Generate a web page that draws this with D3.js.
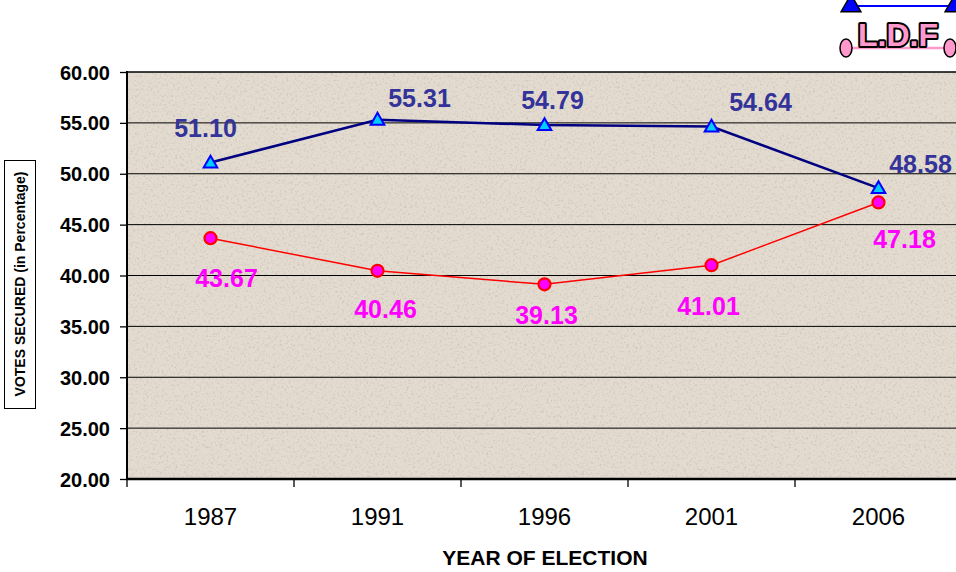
<!DOCTYPE html>
<html>
<head>
<meta charset="utf-8">
<script src="https://cdn.jsdelivr.net/npm/d3@7"></script>
<style>
  body { margin: 0; background: #fff; }
  svg { display: block; font-family: Arial, "Liberation Sans", sans-serif; }
</style>
</head>
<body>
<div id="chart"></div>
<script>
// chart data
var years = ["1987", "1991", "1996", "2001", "2006"];
var ldf = [51.10, 55.31, 54.79, 54.64, 48.58];
var udf = [43.67, 40.46, 39.13, 41.01, 47.18];
var yTicks = [20, 25, 30, 35, 40, 45, 50, 55, 60];

// where the value labels sit relative to their point (layout only)
var ldfLabelShift = [[-5, -26], [42, -13], [8, -16], [49, -16], [42, -15]];
var udfLabelShift = [[16, 49], [8, 47], [2, 40], [-3, 50], [26, 46]];

var width = 956, height = 572;
// plot box (right edge runs past the page, as in the original)
var plotLeft = 127, plotTop = 72, plotBottom = 479, plotRight = 962;

var svg = d3.select("#chart").append("svg")
    .attr("width", width)
    .attr("height", height);

// grainy beige background for the plot area
var defs = svg.append("defs");
var grain = defs.append("filter").attr("id", "grain")
    .attr("x", 0).attr("y", 0).attr("width", 1).attr("height", 1);
grain.append("feTurbulence")
    .attr("type", "fractalNoise")
    .attr("baseFrequency", 0.45)
    .attr("numOctaves", 3)
    .attr("seed", 7);
grain.append("feColorMatrix")
    .attr("type", "matrix")
    .attr("values", "0 0 0 0 0.58  0 0 0 0 0.52  0 0 0 0 0.45  4 0 0 0 -2.1");

var x = d3.scaleBand().domain(years).range([plotLeft, plotRight]);
var y = d3.scaleLinear().domain([20, 60]).range([plotBottom, plotTop]);
var cx = function(d, i) { return x(years[i]) + x.bandwidth() / 2; };

svg.append("rect")
    .attr("x", plotLeft).attr("y", plotTop)
    .attr("width", plotRight - plotLeft).attr("height", plotBottom - plotTop)
    .attr("fill", "#e3dbcf");
svg.append("rect")
    .attr("x", plotLeft).attr("y", plotTop)
    .attr("width", plotRight - plotLeft).attr("height", plotBottom - plotTop)
    .attr("filter", "url(#grain)")
    .attr("opacity", 0.6);

// horizontal grid lines
svg.append("g")
  .selectAll("line")
  .data(yTicks.slice(1))
  .enter()
  .append("line")
    .attr("x1", plotLeft).attr("x2", plotRight)
    .attr("y1", function(d) { return y(d); })
    .attr("y2", function(d) { return y(d); })
    .attr("stroke", "#000")
    .attr("stroke-width", function(d) { return d == 60 ? 1.6 : 1; });

// y axis
var yAxis = svg.append("g")
    .attr("transform", "translate(" + plotLeft + ",0)")
    .call(d3.axisLeft(y).tickValues(yTicks).tickFormat(d3.format(".2f")).tickSize(7).tickPadding(10));
yAxis.select(".domain").remove();
yAxis.selectAll(".tick line").attr("stroke", "#000").attr("stroke-width", 1.3);
yAxis.selectAll("text")
    .attr("fill", "#000")
    .style("font-size", "20px")
    .style("font-weight", "bold")
    .attr("dy", "0.35em");

svg.append("line")
    .attr("x1", plotLeft).attr("x2", plotLeft)
    .attr("y1", plotTop - 1).attr("y2", plotBottom + 1)
    .attr("stroke", "#000").attr("stroke-width", 2);

// x axis
var xAxis = svg.append("g")
    .attr("transform", "translate(0," + plotBottom + ")")
    .call(d3.axisBottom(x).tickSize(0).tickPadding(0));
xAxis.select(".domain").remove();
xAxis.selectAll("text")
    .attr("fill", "#000")
    .attr("y", 46)
    .attr("dy", 0)
    .style("font-size", "24px");

var bounds = years.map(function(d) { return x(d); }).concat([plotRight]);
svg.append("g")
  .selectAll("line")
  .data(bounds)
  .enter()
  .append("line")
    .attr("x1", function(d) { return d; })
    .attr("x2", function(d) { return d; })
    .attr("y1", plotBottom).attr("y2", plotBottom + 8)
    .attr("stroke", "#000").attr("stroke-width", 1.3);

svg.append("line")
    .attr("x1", plotLeft - 1).attr("x2", plotRight)
    .attr("y1", plotBottom).attr("y2", plotBottom)
    .attr("stroke", "#000").attr("stroke-width", 2.5);

// axis titles
svg.append("text")
    .attr("x", 545).attr("y", 565)
    .attr("text-anchor", "middle")
    .style("font-size", "21px")
    .style("font-weight", "bold")
    .text("YEAR OF ELECTION");

svg.append("rect")
    .attr("x", 4.5).attr("y", 160.5)
    .attr("width", 31).attr("height", 248)
    .attr("fill", "#fff")
    .attr("stroke", "#000");
svg.append("text")
    .attr("transform", "translate(25,284) rotate(-90)")
    .attr("text-anchor", "middle")
    .style("font-size", "14px")
    .style("font-weight", "bold")
    .text("VOTES SECURED (in Percentage)");

// UDF series
var line = d3.line().x(cx).y(function(d) { return y(d); });

svg.append("path")
    .datum(udf)
    .attr("d", line)
    .attr("fill", "none")
    .attr("stroke", "#ff0000")
    .attr("stroke-width", 1.5);

svg.append("g")
  .selectAll("circle")
  .data(udf)
  .enter()
  .append("circle")
    .attr("cx", cx)
    .attr("cy", function(d) { return y(d); })
    .attr("r", 6)
    .attr("fill", "#ff00ff")
    .attr("stroke", "#ff0000")
    .attr("stroke-width", 2.2);

svg.append("g")
  .selectAll("text")
  .data(udf)
  .enter()
  .append("text")
    .attr("x", function(d, i) { return cx(d, i) + udfLabelShift[i][0]; })
    .attr("y", function(d, i) { return y(d) + udfLabelShift[i][1]; })
    .attr("text-anchor", "middle")
    .attr("fill", "#ff00ff")
    .style("font-size", "25px")
    .style("font-weight", "bold")
    .text(function(d) { return d.toFixed(2); });

// LDF series
svg.append("path")
    .datum(ldf)
    .attr("d", line)
    .attr("fill", "none")
    .attr("stroke", "#000080")
    .attr("stroke-width", 2.5);

var tri = d3.symbol().type(d3.symbolTriangle).size(80);
svg.append("g")
  .selectAll("path")
  .data(ldf)
  .enter()
  .append("path")
    .attr("d", tri)
    .attr("transform", function(d, i) { return "translate(" + cx(d, i) + "," + (y(d) + 1) + ")"; })
    .attr("fill", "#00ccff")
    .attr("stroke", "#0000ff")
    .attr("stroke-width", 2);

svg.append("g")
  .selectAll("text")
  .data(ldf)
  .enter()
  .append("text")
    .attr("x", function(d, i) { return cx(d, i) + ldfLabelShift[i][0]; })
    .attr("y", function(d, i) { return y(d) + ldfLabelShift[i][1]; })
    .attr("text-anchor", "middle")
    .attr("fill", "#333399")
    .style("font-size", "25px")
    .style("font-weight", "bold")
    .text(function(d) { return d.toFixed(2); });

// legend badge, top right (partly off the page like the original)
var badge = svg.append("g");
badge.append("line")
    .attr("x1", 852).attr("x2", 955).attr("y1", 6).attr("y2", 6)
    .attr("stroke", "#0000ff").attr("stroke-width", 2);
badge.selectAll(".btri")
    .data([851, 955])
    .enter()
    .append("path")
    .attr("class", "btri")
    .attr("d", d3.symbol().type(d3.symbolTriangle).size(170))
    .attr("transform", function(d) { return "translate(" + d + ",6)"; })
    .attr("fill", "#0000ff")
    .attr("stroke", "#000")
    .attr("stroke-width", 1.5);
badge.append("line")
    .attr("x1", 846).attr("x2", 950).attr("y1", 48).attr("y2", 48)
    .attr("stroke", "#ff99cc").attr("stroke-width", 2.5);
badge.selectAll("ellipse")
    .data([846, 950])
    .enter()
    .append("ellipse")
    .attr("cx", function(d) { return d; })
    .attr("cy", 48)
    .attr("rx", 6).attr("ry", 9)
    .attr("fill", "#ff99cc")
    .attr("stroke", "#000")
    .attr("stroke-width", 1.5);
badge.append("text")
    .attr("x", 898).attr("y", 46)
    .attr("text-anchor", "middle")
    .attr("fill", "#ff99cc")
    .attr("stroke", "#000")
    .attr("stroke-width", 4)
    .attr("paint-order", "stroke")
    .attr("stroke-linejoin", "round")
    .style("font-size", "32px")
    .style("font-weight", "bold")
    .text("L.D.F");
</script>
</body>
</html>
